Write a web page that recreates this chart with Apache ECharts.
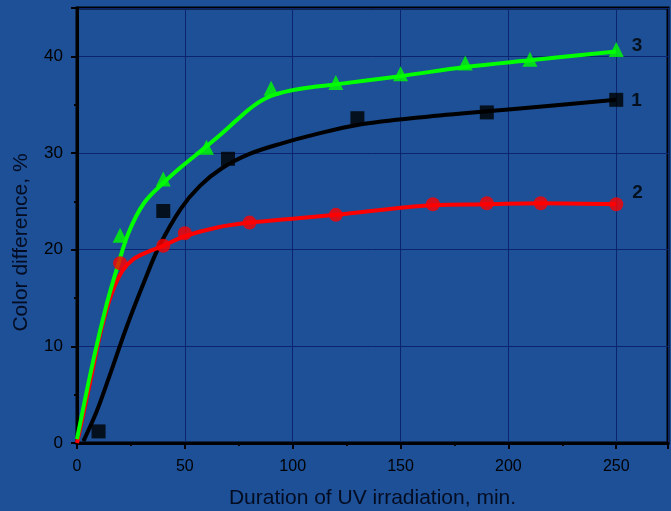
<!DOCTYPE html>
<html>
<head>
<meta charset="utf-8">
<script src="https://cdn.jsdelivr.net/npm/echarts@6/dist/echarts.min.js"></script>
<style>
html,body{margin:0;padding:0;background:#1d5096;}
#c{width:671px;height:511px;}
</style>
</head>
<body>
<div id="c"></div>
<script>
// Measured points
const x1 = [10, 40, 70, 130, 190, 250];
const y1 = [1.2, 24.0, 29.4, 33.6, 34.2, 35.5];
const x2 = [20, 40, 50, 80, 120, 165, 190, 215, 250];
const y2 = [18.6, 20.4, 21.7, 22.8, 23.6, 24.7, 24.8, 24.8, 24.7];
const x3 = [20, 40, 60, 90, 120, 150, 180, 210, 250];
const y3 = [21.5, 27.3, 30.6, 36.7, 37.3, 38.2, 39.3, 39.7, 40.7];

// Fitted curves
const fit1x = [3, 9, 15, 23, 31, 38, 48, 57, 67, 80, 95, 110, 130, 160, 200, 250];
const fit1y = [0.2, 3.2, 6.9, 12.0, 16.6, 20.3, 24.2, 26.6, 28.4, 29.9, 31.0, 31.9, 32.9, 33.7, 34.5, 35.5];
const fit2x = [0, 6, 11, 16, 21, 26, 32, 40, 50, 65, 80, 100, 120, 165, 190, 215, 250];
const fit2y = [0, 6.2, 11.5, 15.4, 17.8, 19.0, 19.7, 20.4, 21.4, 22.3, 22.8, 23.2, 23.6, 24.6, 24.7, 24.8, 24.7];
const fit3x = [0, 7.6, 13.8, 19, 24, 31, 40, 48, 59, 67, 74, 82, 90, 100, 110, 120, 150, 180, 210, 250];
const fit3y = [0.4, 8.6, 14.4, 18.4, 21.8, 24.8, 26.9, 28.5, 30.5, 32.0, 33.4, 34.9, 35.9, 36.5, 36.85, 37.1, 37.95, 38.9, 39.6, 40.5];

const seriesNames = ['1', '2', '3'];
const xTitle = 'Duration of UV irradiation, min.';
const yTitle = 'Color difference, %';

const zip = (a, b) => a.map((v, i) => [v, b[i]]);
function withEndLabel(xs, ys, name, offset) {
  return zip(xs, ys).map((p, i) => i === xs.length - 1
    ? { value: p, label: { show: true, formatter: name, position: 'right', offset: offset,
        fontSize: 19, fontWeight: 'bold', color: '#000', fontFamily: 'Liberation Sans' } }
    : p);
}

const chart = echarts.init(document.getElementById('c'), null, { renderer: 'canvas' });
const fontFam = 'Liberation Sans';
const lineCommon = { smooth: 0.35, showSymbol: false, symbol: 'none' };
chart.setOption({
  backgroundColor: '#1d5096',
  animation: false,
  grid: { left: 77, right: 3, top: 8, bottom: 68, show: true, borderColor: '#000', borderWidth: 3,
    backgroundColor: 'transparent', containLabel: false, outerBoundsMode: 'none' },
  xAxis: {
    type: 'value', min: 0, max: 274, interval: 50,
    name: xTitle, nameLocation: 'middle', nameGap: 45,
    nameTextStyle: { fontSize: 21, color: '#040c22', fontFamily: fontFam },
    axisLine: { show: true, lineStyle: { color: '#000', width: 3 } },
    axisTick: { show: true, inside: false, length: 6, lineStyle: { color: '#000', width: 2 } },
    minorTick: { show: true, splitNumber: 2, length: 3, lineStyle: { color: '#000', width: 2 } },
    axisLabel: { fontSize: 16, color: '#000', margin: 16, fontFamily: fontFam, showMaxLabel: false,
      formatter: v => (v % 50 === 0 ? String(v) : '') },
    splitLine: { show: true, lineStyle: { color: '#0a2470', width: 1 } }
  },
  yAxis: {
    type: 'value', min: 0, max: 45, interval: 10,
    name: yTitle, nameLocation: 'middle', nameGap: 45, nameRotate: 90,
    nameTextStyle: { fontSize: 21, color: '#040c22', fontFamily: fontFam, padding: [0, 34, 0, 0] },
    axisLine: { show: true, lineStyle: { color: '#000', width: 3 } },
    axisTick: { show: true, inside: false, length: 6, lineStyle: { color: '#000', width: 2 } },
    minorTick: { show: true, splitNumber: 2, length: 3, lineStyle: { color: '#000', width: 2 } },
    axisLabel: { fontSize: 17, color: '#000', margin: 14, fontFamily: fontFam, showMaxLabel: false,
      formatter: v => (v % 10 === 0 ? String(v) : '') },
    splitLine: { show: true, lineStyle: { color: '#0a2470', width: 1 } }
  },
  series: [
    Object.assign({ type: 'line', data: zip(fit1x, fit1y), lineStyle: { color: '#000', width: 4 }, z: 3 }, lineCommon),
    Object.assign({ type: 'line', data: zip(fit2x, fit2y), lineStyle: { color: '#ff0000', width: 4 }, z: 4 }, lineCommon),
    Object.assign({ type: 'line', data: zip(fit3x, fit3y), lineStyle: { color: '#00ff00', width: 4 }, z: 5 }, lineCommon),
    { name: seriesNames[0], type: 'scatter', data: withEndLabel(x1, y1, seriesNames[0], [3, 1]),
      symbol: 'rect', symbolSize: 14, itemStyle: { color: '#000' }, z: 6 },
    { name: seriesNames[1], type: 'scatter', data: withEndLabel(x2, y2, seriesNames[1], [4, -11]),
      symbol: 'circle', symbolSize: 14, itemStyle: { color: '#ff0000' }, z: 6 },
    { name: seriesNames[2], type: 'scatter', data: withEndLabel(x3, y3, seriesNames[2], [3, -4]),
      symbol: 'triangle', symbolSize: 15, itemStyle: { color: '#00ff00' }, z: 6 }
  ]
});
</script>
</body>
</html>
